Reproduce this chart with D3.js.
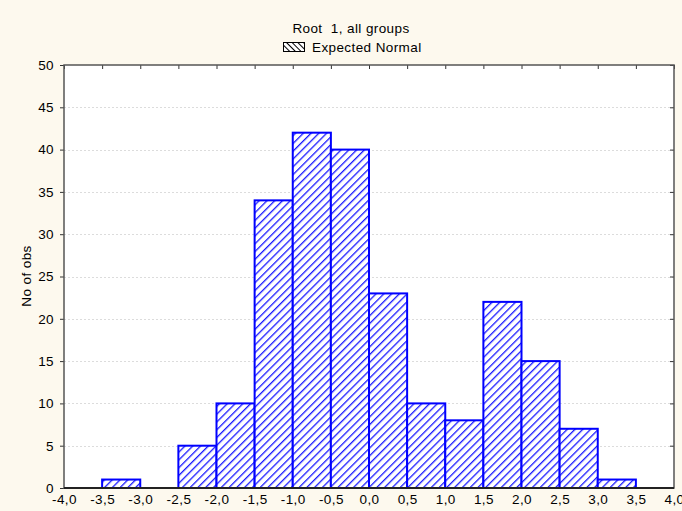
<!DOCTYPE html>
<html>
<head>
<meta charset="utf-8">
<script src="https://cdn.jsdelivr.net/npm/d3@7"></script>
<style>
  html, body { margin: 0; padding: 0; background: #fdf9ee; }
  svg { display: block; }
  text { font-family: "Liberation Sans", Arial, sans-serif; white-space: pre; }
</style>
</head>
<body>
<script>
// Histogram of root 1 scores: bin edges and counts
const binStarts = [-3.5, -3.0, -2.5, -2.0, -1.5, -1.0, -0.5, 0.0, 0.5, 1.0, 1.5, 2.0, 2.5, 3.0];
const binWidth = 0.5;
const counts = [1, 0, 5, 10, 34, 42, 40, 23, 10, 8, 22, 15, 7, 1];
const xTicks = [-4.0, -3.5, -3.0, -2.5, -2.0, -1.5, -1.0, -0.5, 0.0, 0.5, 1.0, 1.5, 2.0, 2.5, 3.0, 3.5, 4.0];
const yTicks = [0, 5, 10, 15, 20, 25, 30, 35, 40, 45, 50];
const title = "Root  1, all groups";
const legendLabel = "Expected Normal";
const yLabel = "No of obs";

const W = 682, H = 511;
const m = { left: 64, right: 8, top: 65, bottom: 23 };
const FS = 13.5, LS = 0.4;

const svg = d3.select("body").append("svg").attr("width", W).attr("height", H);
svg.append("rect").attr("width", W).attr("height", H).attr("fill", "#fdf9ee");

const defs = svg.append("defs");
// blue forward-slash hatch for bars
const hb = defs.append("pattern").attr("id", "hatchBar").attr("patternUnits", "userSpaceOnUse")
  .attr("width", 5.5).attr("height", 5.5).attr("patternTransform", "rotate(45)");
hb.append("rect").attr("width", 5.5).attr("height", 5.5).attr("fill", "#fff");
hb.append("line").attr("x1", 0).attr("y1", 0).attr("x2", 0).attr("y2", 5.5)
  .attr("stroke", "#1a1aff").attr("stroke-width", 2.6);
// black back-slash hatch for the legend swatch
const hl = defs.append("pattern").attr("id", "hatchLeg").attr("patternUnits", "userSpaceOnUse")
  .attr("width", 4).attr("height", 4).attr("patternTransform", "rotate(-45)");
hl.append("rect").attr("width", 4).attr("height", 4).attr("fill", "#fff");
hl.append("line").attr("x1", 0).attr("y1", 0).attr("x2", 0).attr("y2", 4)
  .attr("stroke", "#000").attr("stroke-width", 2);

const x = d3.scaleLinear().domain([-4, 4]).range([m.left, W - m.right]);
const y = d3.scaleLinear().domain([0, 50]).range([H - m.bottom, m.top]);

// plot area
svg.append("rect").attr("x", x(-4)).attr("y", y(50))
  .attr("width", x(4) - x(-4)).attr("height", y(0) - y(50)).attr("fill", "#fff");

// horizontal grid
svg.append("g").selectAll("line").data(yTicks.filter(d => d > 0 && d < 50)).join("line")
  .attr("x1", x(-4)).attr("x2", x(4))
  .attr("y1", d => Math.round(y(d)) + 0.5).attr("y2", d => Math.round(y(d)) + 0.5)
  .attr("stroke", "#dcdcdc").attr("stroke-width", 1).attr("stroke-dasharray", "2,2");

// bars
svg.append("g").selectAll("rect").data(binStarts.map((s, i) => ({ s, c: counts[i] })).filter(d => d.c > 0))
  .join("rect")
  .attr("x", d => x(d.s))
  .attr("y", d => y(d.c))
  .attr("width", d => x(d.s + binWidth) - x(d.s))
  .attr("height", d => y(0) - y(d.c))
  .attr("fill", "url(#hatchBar)")
  .attr("stroke", "#0000ff").attr("stroke-width", 2);

// axes
const fmt = d => d3.format(".1f")(d).replace(".", ",").replace("−", "-");
const axLeft = svg.append("g").attr("transform", `translate(${x(-4)},0)`)
  .call(d3.axisLeft(y).tickValues(yTicks).tickSize(4).tickPadding(6).tickFormat(d3.format("d")));
const axBottom = svg.append("g").attr("transform", `translate(0,${y(0)})`)
  .call(d3.axisBottom(x).tickValues(xTicks).tickSize(0).tickPadding(6).tickFormat(fmt));
const axTop = svg.append("g").attr("transform", `translate(0,${y(50)})`)
  .call(d3.axisBottom(x).tickValues(xTicks).tickSize(4).tickFormat(""));
const axRight = svg.append("g").attr("transform", `translate(${x(4)},0)`)
  .call(d3.axisLeft(y).tickValues(yTicks).tickSize(4).tickFormat(""));

[axLeft, axBottom, axTop, axRight].forEach(g => {
  g.select(".domain").remove();
  g.selectAll("line").attr("stroke", "#333");
  g.selectAll("text").attr("font-size", FS).attr("letter-spacing", LS).attr("fill", "#000")
    .style("font-family", "'Liberation Sans', Arial, sans-serif");
});

// frame
svg.append("rect").attr("x", x(-4)).attr("y", y(50))
  .attr("width", x(4) - x(-4)).attr("height", y(0) - y(50))
  .attr("fill", "none").attr("stroke", "#555").attr("stroke-width", 1.5);
svg.append("line").attr("x1", x(-4)).attr("x2", x(4)).attr("y1", y(0)).attr("y2", y(0))
  .attr("stroke", "#222").attr("stroke-width", 2);

// title and legend
svg.append("text").attr("x", 351).attr("y", 33).attr("text-anchor", "middle")
  .attr("font-size", FS).attr("letter-spacing", LS).text(title);
svg.append("rect").attr("x", 283.5).attr("y", 42.5).attr("width", 21).attr("height", 9)
  .attr("fill", "url(#hatchLeg)").attr("stroke", "#000").attr("stroke-width", 1);
svg.append("text").attr("x", 312).attr("y", 52).attr("font-size", FS).attr("letter-spacing", LS)
  .text(legendLabel);

// y label
svg.append("text").attr("transform", `translate(31,276) rotate(-90)`)
  .attr("text-anchor", "middle").attr("font-size", FS).attr("letter-spacing", LS).text(yLabel);
</script>
</body>
</html>
